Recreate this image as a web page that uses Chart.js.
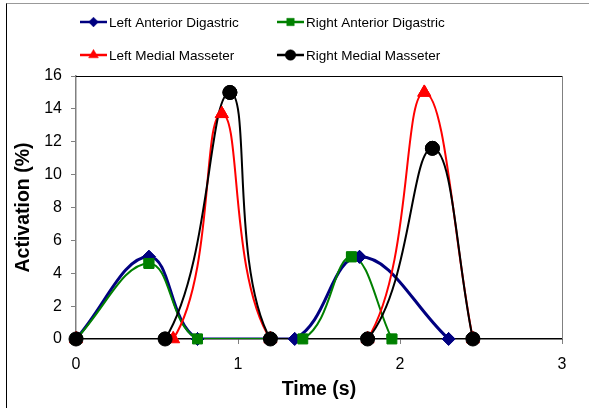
<!DOCTYPE html>
<html lang="en">
<head>
    <meta charset="UTF-8">
    <title>Muscle Activation</title>
    <script src="https://cdn.jsdelivr.net/npm/chart.js@4"></script>
    <style>
        html, body { margin: 0; padding: 0; background: #fff; }
        #wrap { position: relative; width: 589px; height: 408px; overflow: hidden; }
        #frame { position: absolute; left: 6px; top: 3px; width: 700px; height: 500px;
                 border-left: 1px solid #000; border-top: 1px solid #999; }
        canvas { position: absolute; left: 0; top: 0; }
    </style>
</head>
<body>
<div id="wrap">
    <div id="frame"></div>
    <canvas id="activationChart" width="589" height="408"></canvas>
</div>

<script>
    // Data (time in s, activation in %)
    const seriesNames = ['Left Anterior Digastric', 'Right Anterior Digastric', 'Left Medial Masseter', 'Right Medial Masseter'];
    const ladTime  = [0, 0.45, 0.75, 1.35, 1.75, 2.3];
    const ladValue = [0, 5, 0, 0, 5, 0];
    const radTime  = [0, 0.45, 0.75, 1.4, 1.7, 1.95];
    const radValue = [0, 4.6, 0, 0, 5, 0];
    const lmmTime  = [0, 0.6, 0.9, 1.2, 1.8, 2.15, 2.45];
    const lmmValue = [0, 0, 13.7, 0, 0, 15, 0];
    const rmmTime  = [0, 0.55, 0.95, 1.2, 1.8, 2.2, 2.45];
    const rmmValue = [0, 0, 15, 0, 0, 11.6, 0];
    const xTicks = [0, 1, 2, 3];
    const yTicks = [0, 2, 4, 6, 8, 10, 12, 14, 16];

    const pts = (xs, ys) => xs.map((x, i) => ({ x: x, y: ys[i] }));

    // legend slots: [x, y] for each series
    const legendSlots = [[80, 22], [277, 22], [80, 55], [277, 55]];

    const plotFrame = {
        id: 'plotFrame',
        beforeDatasetsDraw(chart) {
            const { ctx, chartArea: a } = chart;
            ctx.save();
            ctx.lineWidth = 1;
            ctx.strokeStyle = '#000';
            ctx.beginPath();
            ctx.moveTo(a.left, a.top + 0.5);
            ctx.lineTo(a.right, a.top + 0.5);
            ctx.stroke();
            ctx.strokeStyle = '#808080';
            ctx.beginPath();
            ctx.moveTo(a.right + 0.5, a.top);
            ctx.lineTo(a.right + 0.5, a.bottom);
            ctx.stroke();
            ctx.restore();
        }
    };

    // markers drawn again without clipping so the ones on zero show whole
    const pointsOnTop = {
        id: 'pointsOnTop',
        afterDraw(chart) {
            const area = { left: -1e4, top: -1e4, right: 1e4, bottom: 1e4 };
            const metas = chart.getSortedVisibleDatasetMetas();
            for (let i = metas.length - 1; i >= 0; i--) {
                metas[i].data.forEach(p => p.draw(chart.ctx, area));
            }
        }
    };

    const gridLegend = {
        id: 'gridLegend',
        afterDraw(chart) {
            const ctx = chart.ctx;
            ctx.save();
            chart.data.datasets.forEach((ds, i) => {
                const [x, y] = legendSlots[i];
                ctx.strokeStyle = ds.borderColor;
                ctx.lineWidth = 2.5;
                ctx.beginPath();
                ctx.moveTo(x, y);
                ctx.lineTo(x + 27, y);
                ctx.stroke();
                ctx.fillStyle = ds.backgroundColor;
                ctx.lineWidth = 0.5;
                Chart.helpers.drawPoint(ctx, { pointStyle: ds.pointStyle, radius: ds.pointRadius * 0.75, rotation: 0, borderWidth: 0.5 }, x + 13.5, y);
                ctx.fillStyle = '#000';
                ctx.font = '13.5px "Liberation Sans", Arial, sans-serif';
                ctx.textBaseline = 'middle';
                ctx.fillText(seriesNames[i], x + 29, y + 1);
            });
            ctx.restore();
        }
    };

    const ctx = document.getElementById('activationChart').getContext('2d');
    new Chart(ctx, {
        type: 'line',
        data: {
            datasets: [{
                label: seriesNames[0],
                data: pts(ladTime, ladValue),
                borderColor: '#000080',
                backgroundColor: '#000080',
                borderWidth: 3,
                pointStyle: 'rectRot',
                pointRadius: 6.5,
                order: 3
            }, {
                label: seriesNames[1],
                data: pts(radTime, radValue),
                borderColor: '#008000',
                backgroundColor: '#008000',
                borderWidth: 2,
                pointStyle: 'rect',
                pointRadius: 7,
                order: 2
            }, {
                label: seriesNames[2],
                data: pts(lmmTime, lmmValue),
                borderColor: '#ff0000',
                backgroundColor: '#ff0000',
                borderWidth: 2,
                pointStyle: 'triangle',
                pointRadius: 7.5,
                order: 1
            }, {
                label: seriesNames[3],
                data: pts(rmmTime, rmmValue),
                borderColor: '#000000',
                backgroundColor: '#000000',
                borderWidth: 2,
                pointStyle: 'circle',
                pointRadius: 7,
                order: 0
            }].map(d => Object.assign(d, { tension: 0.4, fill: false, pointBorderWidth: 1 }))
        },
        options: {
            responsive: false,
            animation: false,
            layout: { padding: { top: 76, right: 27, left: 0, bottom: 0 } },
            plugins: {
                legend: { display: false },
                tooltip: { enabled: false }
            },
            scales: {
                x: {
                    type: 'linear',
                    min: 0,
                    max: 3,
                    z: 1,
                    afterBuildTicks: s => { s.ticks = xTicks.map(v => ({ value: v })); },
                    afterFit: s => { s.height = 69; },
                    border: { color: '#000', width: 1.5 },
                    grid: { drawOnChartArea: false, tickLength: 5, color: '#808080' },
                    ticks: { color: '#000', padding: 11, font: { family: '"Liberation Sans", Arial', size: 16 } },
                    title: {
                        display: true,
                        text: 'Time (s)',
                        color: '#000',
                        padding: { top: 0, bottom: 7 },
                        font: { family: '"Liberation Sans", Arial', size: 19.5, weight: 'bold' }
                    }
                },
                y: {
                    min: 0,
                    max: 16,
                    afterBuildTicks: s => { s.ticks = yTicks.map(v => ({ value: v })); },
                    afterFit: s => { s.width = 76; },
                    border: { color: '#808080', width: 1.5 },
                    grid: { drawOnChartArea: false, tickLength: 5, color: '#808080' },
                    ticks: { color: '#000', padding: 9, font: { family: '"Liberation Sans", Arial', size: 16 } },
                    title: {
                        display: true,
                        text: 'Activation (%)',
                        color: '#000',
                        padding: { top: 12, bottom: 0 },
                        font: { family: '"Liberation Sans", Arial', size: 19.5, weight: 'bold' }
                    }
                }
            }
        },
        plugins: [plotFrame, pointsOnTop, gridLegend]
    });
</script>
</body>
</html>
